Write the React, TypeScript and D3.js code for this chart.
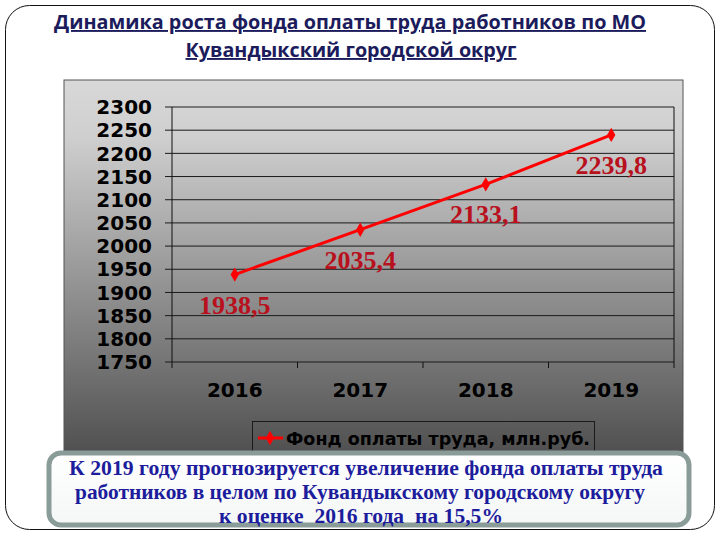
import React from 'react';
import * as d3 from 'd3';

// values
const years = ['2016', '2017', '2018', '2019'];
const payroll = [1938.5, 2035.4, 2133.1, 2239.8];
const payrollLabels = ['1938,5', '2035,4', '2133,1', '2239,8'];
const yTicks = [1750, 1800, 1850, 1900, 1950, 2000, 2050, 2100, 2150, 2200, 2250, 2300];
const seriesName = 'Фонд оплаты труда, млн.руб.';
const titleLines = [
  'Динамика роста фонда оплаты труда работников по МО',
  'Кувандыкский городской округ',
];
const noteLines = [
  'К 2019 году прогнозируется увеличение фонда оплаты труда',
  'работников в целом по Кувандыкскому городскому округу',
  'к оценке  2016 года  на 15,5%',
];

const W = 720;
const H = 540;

const plot = { left: 172, right: 674, top: 107, bottom: 362 };

const App = () => {
  const x = d3.scaleBand<string>().domain(years).range([plot.left, plot.right]);
  const y = d3.scaleLinear().domain([1750, 2300]).range([plot.bottom, plot.top]);
  const cx = (d: string) => (x(d) ?? 0) + x.bandwidth() / 2;

  const line = d3.line<number>()
    .x((_, i) => cx(years[i]))
    .y(d => y(d));

  const diamond = d3.symbol().type(d3.symbolDiamond).size(60)();

  // category boundaries for the x ticks
  const xBounds = [...years.map(d => x(d) ?? 0), plot.right];

  return (
    <svg width={W} height={H} style={{ position: 'absolute', left: 0, top: 0, background: '#fff' }}>
      <defs>
        <linearGradient id="chartBg" x1="0" y1="0" x2="0" y2="1">
          <stop offset="0" stopColor="#d8d8d8" />
          <stop offset="0.15" stopColor="#cfcfcf" />
          <stop offset="1" stopColor="#4e4e4e" />
        </linearGradient>
        <linearGradient id="noteBg" x1="0" y1="0" x2="0" y2="1">
          <stop offset="0" stopColor="#ffffff" />
          <stop offset="1" stopColor="#f4f7f6" />
        </linearGradient>
      </defs>

      {/* slide frame */}
      <rect x={5.5} y={5.5} width={709} height={524} rx={24} fill="#fff" stroke="#111" strokeWidth={1} />

      {/* title */}
      <g fontFamily="'Open Sans', 'DejaVu Sans', sans-serif" fontWeight={700} fill="#1c1c5c"
        textAnchor="middle" style={{ textDecoration: 'underline' }}>
        <text x={350} y={29} fontSize={19} textLength={592} lengthAdjust="spacingAndGlyphs">{titleLines[0]}</text>
        <text x={351} y={57} fontSize={19} textLength={331} lengthAdjust="spacingAndGlyphs">{titleLines[1]}</text>
      </g>

      {/* chart area */}
      <rect x={64} y={80} width={619} height={378} fill="url(#chartBg)" stroke="#555" strokeWidth={1} />

      {/* gridlines + y axis */}
      {yTicks.map(t => (
        <g key={t}>
          <line x1={plot.left - 7} x2={plot.right} y1={y(t)} y2={y(t)} stroke="#1a1a1a" strokeWidth={1} />
          <text x={152} y={y(t)} dy="0.36em" textAnchor="end" fontFamily="'DejaVu Sans', sans-serif"
            fontWeight={700} fontSize={20} fill="#000">{t}</text>
        </g>
      ))}
      <line x1={plot.left} x2={plot.left} y1={plot.top} y2={plot.bottom} stroke="#111" />
      <line x1={plot.right} x2={plot.right} y1={plot.top} y2={plot.bottom} stroke="#111" />

      {/* x axis */}
      {xBounds.map((b, i) => (
        <line key={i} x1={b} x2={b} y1={plot.bottom} y2={plot.bottom + 6} stroke="#111" />
      ))}
      {years.map(d => (
        <text key={d} x={cx(d)} y={397} textAnchor="middle" fontFamily="'DejaVu Sans', sans-serif"
          fontWeight={700} fontSize={20} fill="#000">{d}</text>
      ))}

      {/* series */}
      <path d={line(payroll) ?? ''} fill="none" stroke="#ff0000" strokeWidth={3} />
      {payroll.map((v, i) => (
        <path key={i} d={diamond ?? ''} transform={`translate(${cx(years[i])},${y(v)})`} fill="#ff0000" />
      ))}
      {payroll.map((v, i) => (
        <text key={i} x={cx(years[i])} y={y(v) + 39} textAnchor="middle"
          fontFamily="'Liberation Serif', 'Times New Roman', serif" fontWeight={700} fontSize={26}
          fill="#b8101c">{payrollLabels[i]}</text>
      ))}

      {/* legend */}
      <rect x={252.5} y={421.5} width={342} height={40} fill="none" stroke="#1a1a1a" strokeWidth={1} />
      <line x1={258} x2={283} y1={438} y2={438} stroke="#ff0000" strokeWidth={3} />
      <path d={diamond ?? ''} transform="translate(270,438)" fill="#ff0000" />
      <text x={286} y={445} fontFamily="'DejaVu Sans', sans-serif" fontWeight={700} fontSize={17}
        fill="#000" textLength={304} lengthAdjust="spacingAndGlyphs">{seriesName}</text>

      {/* note box */}
      <rect x={49} y={453} width={640} height={72} rx={12} fill="url(#noteBg)" stroke="#8a9c98" strokeWidth={5} />
      <g fontFamily="'Liberation Serif', 'Times New Roman', serif" fontWeight={700} fill="#1c1c9c" fontSize={21}
        style={{ whiteSpace: 'pre' }}>
        <text x={69} y={475} textLength={594} lengthAdjust="spacingAndGlyphs">{noteLines[0]}</text>
        <text x={75} y={499} textLength={570} lengthAdjust="spacingAndGlyphs">{noteLines[1]}</text>
        <text x={219} y={523} textLength={284} lengthAdjust="spacingAndGlyphs" xmlSpace="preserve">{noteLines[2]}</text>
      </g>
    </svg>
  );
};

export default App;
